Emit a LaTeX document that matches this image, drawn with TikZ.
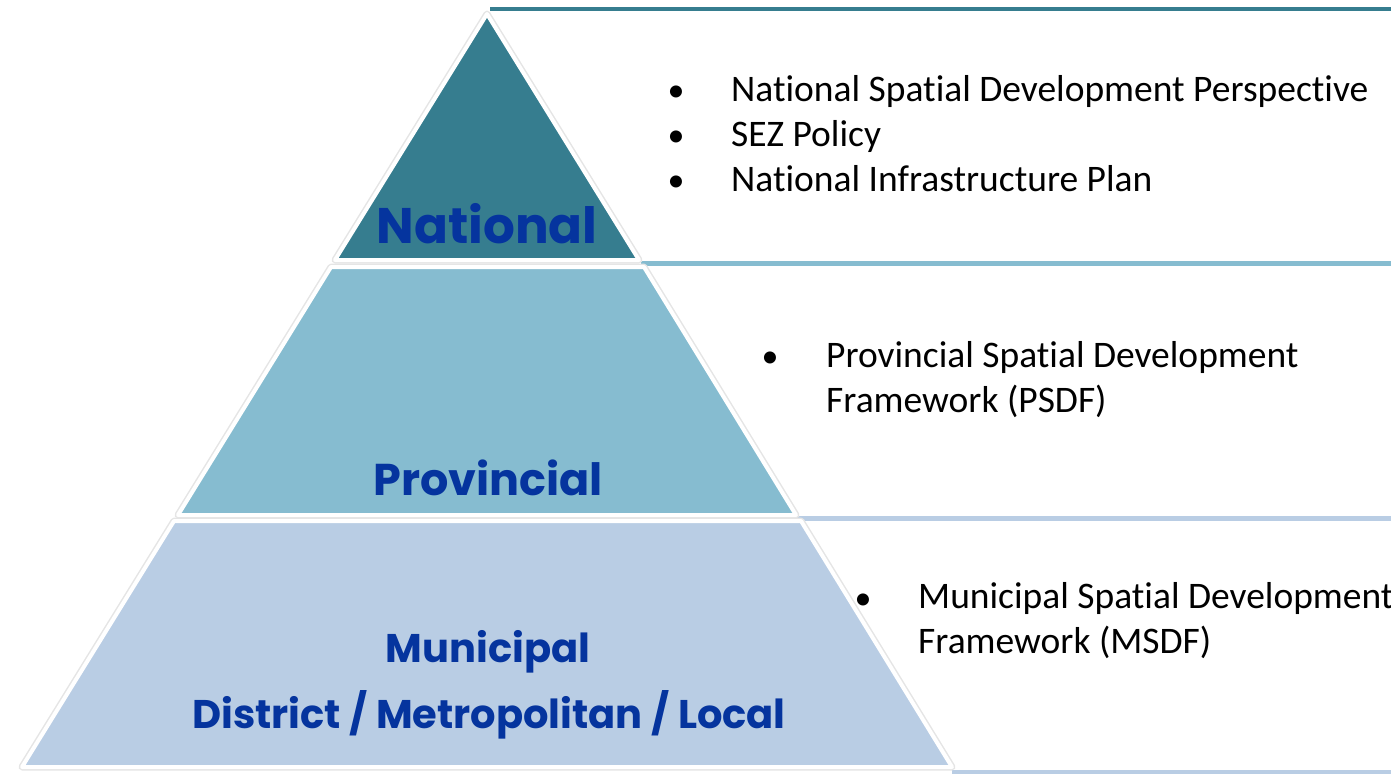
\documentclass[tikz,border=0pt]{standalone}
\usepackage{fontspec}
\setmainfont{Carlito}[Ligatures=NoCommon]
\newfontfamily\titlefont{Poppins}[Ligatures=NoCommon]
\usetikzlibrary{positioning}
\definecolor{natcol}{RGB}{54,125,143}
\definecolor{provcol}{RGB}{134,188,208}
\definecolor{municol}{RGB}{185,205,228}
\definecolor{titleblue}{RGB}{5,52,158}
\newcommand{\slab}[2]{% colour, path
  \draw[black!10, line width=7pt, line join=round] #2;
  \filldraw[fill=#1, draw=white, line width=4pt, line join=round] #2;
}

\begin{document}
\begin{tikzpicture}[x=1pt, y=-1pt,
    tiertitle/.style={font=\titlefont\bfseries, text=titleblue, anchor=base, inner sep=0pt},
    bulletdot/.style={anchor=base, inner sep=0pt, font=\fontsize{34}{45}\selectfont},
    item/.style={anchor=base west, inner sep=0pt, align=left, font=\fontsize{37.5}{45}\selectfont}]
  % General frame is (0,0) to (1391,774), y down
  \useasboundingbox (0,0) rectangle (1391,774);

  % tier rules to the right
  \draw[natcol, line width=4pt] (490,9) -- (1391,9);
  \draw[provcol, line width=5pt] (641,263.5) -- (1391,263.5);
  \draw[municol, line width=5pt] (796,518.5) -- (1391,518.5);
  \draw[municol, line width=4pt] (952,772) -- (1391,772);

  % pyramid
  \slab{natcol}{(487,14) -- (639,260) -- (335,260) -- cycle}
  \slab{provcol}{(331,267) -- (644,267) -- (796,515) -- (178,515) -- cycle}
  \slab{municol}{(174,521) -- (801,521) -- (952,767) -- (22,767) -- cycle}

  % tier names
  \node[tiertitle, font=\titlefont\bfseries\fontsize{50}{60}\selectfont] (nat) at (487,243) {National};
  \node[tiertitle, font=\titlefont\bfseries\fontsize{44.5}{55}\selectfont] (prov) at (488,495) {Provincial};
  \node[tiertitle, font=\titlefont\bfseries\fontsize{40}{50}\selectfont] (muni) at (488,662) {Municipal};
  \node[tiertitle, font=\titlefont\bfseries\fontsize{40}{50}\selectfont] (mtype) at (489,728) {District / Metropolitan / Local};

  % national instruments
  \node[bulletdot] (b1) at (676,101) {•};
  \node[item] (nsdp) at (731,101) {National Spatial Development Perspective};
  \node[bulletdot] (b2) at (676,146) {•};
  \node[item] (sez) at (731,146) {SEZ Policy};
  \node[bulletdot] (b3) at (676,191) {•};
  \node[item] (nip) at (731,191) {National Infrastructure Plan};

  % provincial instruments (base = last line)
  \node[bulletdot] (b4) at (770,367) {•};
  \node[item] (psdf) at (826,412) {Provincial Spatial Development\\Framework (PSDF)};

  % municipal instruments
  \node[bulletdot] (b5) at (863,609) {•};
  \node[item] (msdf) at (918,653) {Municipal Spatial Development\\Framework (MSDF)};
\end{tikzpicture}
\end{document}
